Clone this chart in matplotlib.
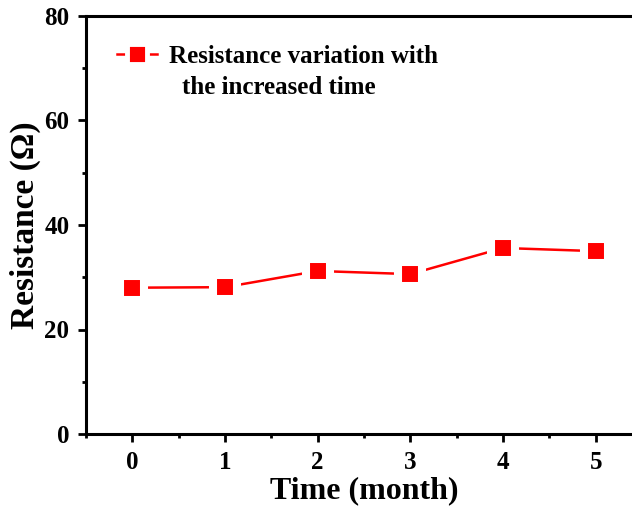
import matplotlib
matplotlib.use('Agg')
import matplotlib.pyplot as plt
from matplotlib.ticker import MultipleLocator

months = [0, 1, 2, 3, 4, 5]
resistance = [28.0, 28.1, 31.2, 30.6, 35.6, 35.0]
x_ticks = [0, 1, 2, 3, 4, 5]
y_ticks = [0, 20, 40, 60, 80]

plt.rcParams['font.family'] = ['Liberation Serif', 'DejaVu Serif']
plt.rcParams['font.weight'] = 'bold'

fig = plt.figure(figsize=(6.32, 5.13), dpi=100)
ax = fig.add_axes([86 / 632, 1 - 434 / 513, 556 / 632, (434 - 16) / 513])

ax.plot(months, resistance, color='red', lw=1.8, marker='s', ms=17.3,
        mfc='red', mec='white', mew=5.8, label='Resistance variation with')

ax.set_xlim(-0.5, 5.5)
ax.set_ylim(0, 80)
ax.set_xticks(x_ticks)
ax.set_yticks(y_ticks)
ax.xaxis.set_minor_locator(MultipleLocator(0.5))
ax.yaxis.set_minor_locator(MultipleLocator(10))
ax.tick_params(which='major', direction='out', length=6, width=2, labelsize=18, pad=6)
ax.tick_params(which='minor', direction='out', length=3, width=2)
for lab in ax.get_xticklabels() + ax.get_yticklabels():
    lab.set_fontweight('bold')

for side in ['left', 'bottom', 'top']:
    ax.spines[side].set_linewidth(2.2)
ax.spines['right'].set_visible(False)

ax.set_xlabel('Time (month)', fontsize=23, fontweight='bold', labelpad=2)
ax.set_ylabel('Resistance (\u03a9)', fontsize=24, fontweight='bold', labelpad=2)

leg = ax.legend(loc='upper left', bbox_to_anchor=(0.037, 0.955), frameon=False,
                prop={'size': 18, 'weight': 'bold'}, handlelength=1.6,
                handletextpad=0.5, borderaxespad=0)
leg.legend_handles[0].set_markersize(15)
leg.legend_handles[0].set_markeredgewidth(3.5)
ax.text(0.172, 0.83, 'the increased time', transform=ax.transAxes,
        fontsize=18, fontweight='bold', va='center', ha='left')

fig.savefig('out.png', dpi=100)
